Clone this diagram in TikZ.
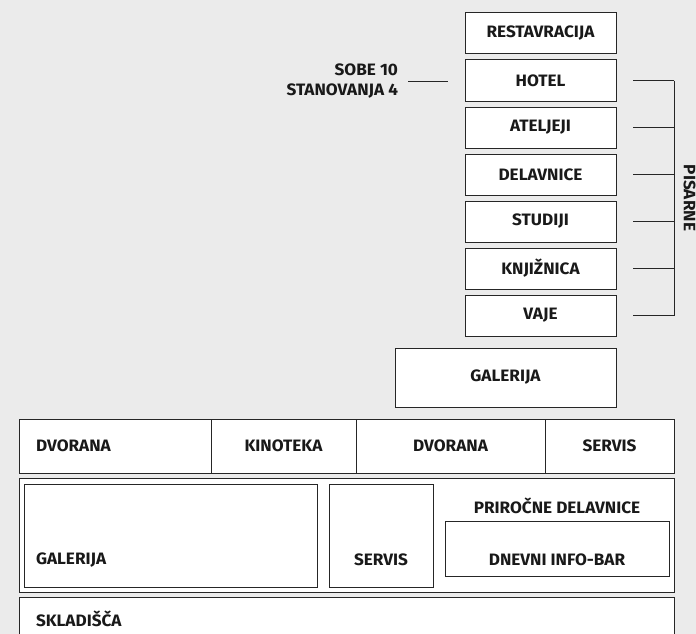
\documentclass[tikz,border=0pt]{standalone}
\usepackage{fontspec}
\setmainfont{Fira Sans}[UprightFont=* Bold, FakeStretch=1.04]
\begin{document}
\begin{tikzpicture}[x=1pt,y=-1pt,
  box/.style={draw=black!85, line width=1pt, fill=white, inner sep=0pt, outer sep=0pt},
  lbl/.style={inner sep=0pt, outer sep=0pt, font=\fontsize{16.5}{20}\selectfont, text=black!90},
  ln/.style={draw=black!85, line width=1pt}]
\fill[black!8] (0,0) rectangle (696,634);
\useasboundingbox (0,0) rectangle (696,634);
\clip (0,0) rectangle (696,634);
% stack
\foreach \n/\t [count=\k from 0] in {rest/RESTAVRACIJA,hotel/HOTEL,atel/ATELJEJI,delav/DELAVNICE,stud/STUDIJI,knji/KNJIŽNICA,vaje/VAJE}{
  \node[box, minimum width=151, minimum height=41] (\n) at (540.5,33.5+47*\k) {};
  \node[lbl] (\n t) at (\n.center) {\t};
}
\node[box, minimum width=221, minimum height=59] (gal1) at (505.5,377.5) {};
\node[lbl] (gal1t) at (gal1.center) {GALERIJA};
% left label
\node[lbl, anchor=east] (sobe) at (398,69.5) {SOBE 10};
\node[lbl, anchor=east] (stan) at (398,91.5) {STANOVANJA 4};
\coordinate (sl) at (408,81);
\coordinate (sr) at (448,81);
\draw[ln] (sl) -- (sr);
% bracket
\coordinate (bt) at (674,80.5);
\coordinate (bb) at (674,315.5);
\foreach \n in {hotel,atel,delav,stud,knji,vaje}{
  \draw[ln] ([xshift=17]\n.east) -- (\n.east -| bt);
}
\draw[ln] (bt) -- (bb);
\node[lbl, rotate=-90] (pis) at (689.5,198) {PISARNE};
% row 1
\node[box, minimum width=192, minimum height=54, anchor=north west] (dv1) at (19,419) {};
\node[lbl, anchor=west] (dv1t) at (36,446) {DVORANA};
\node[box, minimum width=145, minimum height=54, anchor=north west] (kin) at (211,419) {};
\node[lbl] (kint) at (kin.center) {KINOTEKA};
\node[box, minimum width=189, minimum height=54, anchor=north west] (dv2) at (356,419) {};
\node[lbl] (dv2t) at (dv2.center) {DVORANA};
\node[box, minimum width=129, minimum height=54, anchor=north west] (ser1) at (545,419) {};
\node[lbl] (ser1t) at (ser1.center) {SERVIS};
% row 2
\node[box, minimum width=655, minimum height=114, anchor=north west] (row2) at (19,478) {};
\node[box, minimum width=293, minimum height=103, anchor=north west] (gal2) at (24,484) {};
\node[lbl, anchor=west] (gal2t) at (36,560) {GALERIJA};
\node[box, minimum width=104, minimum height=103, anchor=north west] (ser2) at (329,484) {};
\node[lbl] (ser2t) at (381,560) {SERVIS};
\node[lbl] (pri) at (557,506) {PRIROČNE DELAVNICE};
\node[box, minimum width=224, minimum height=55, anchor=north west] (inf) at (445,521) {};
\node[lbl] (inft) at (557,560) {DNEVNI INFO-BAR};
% row 3
\node[box, minimum width=655, minimum height=60, anchor=north west] (skl) at (19,597) {};
\node[lbl, anchor=west] (sklt) at (36,619) {SKLADIŠČA};
\end{tikzpicture}
\end{document}
